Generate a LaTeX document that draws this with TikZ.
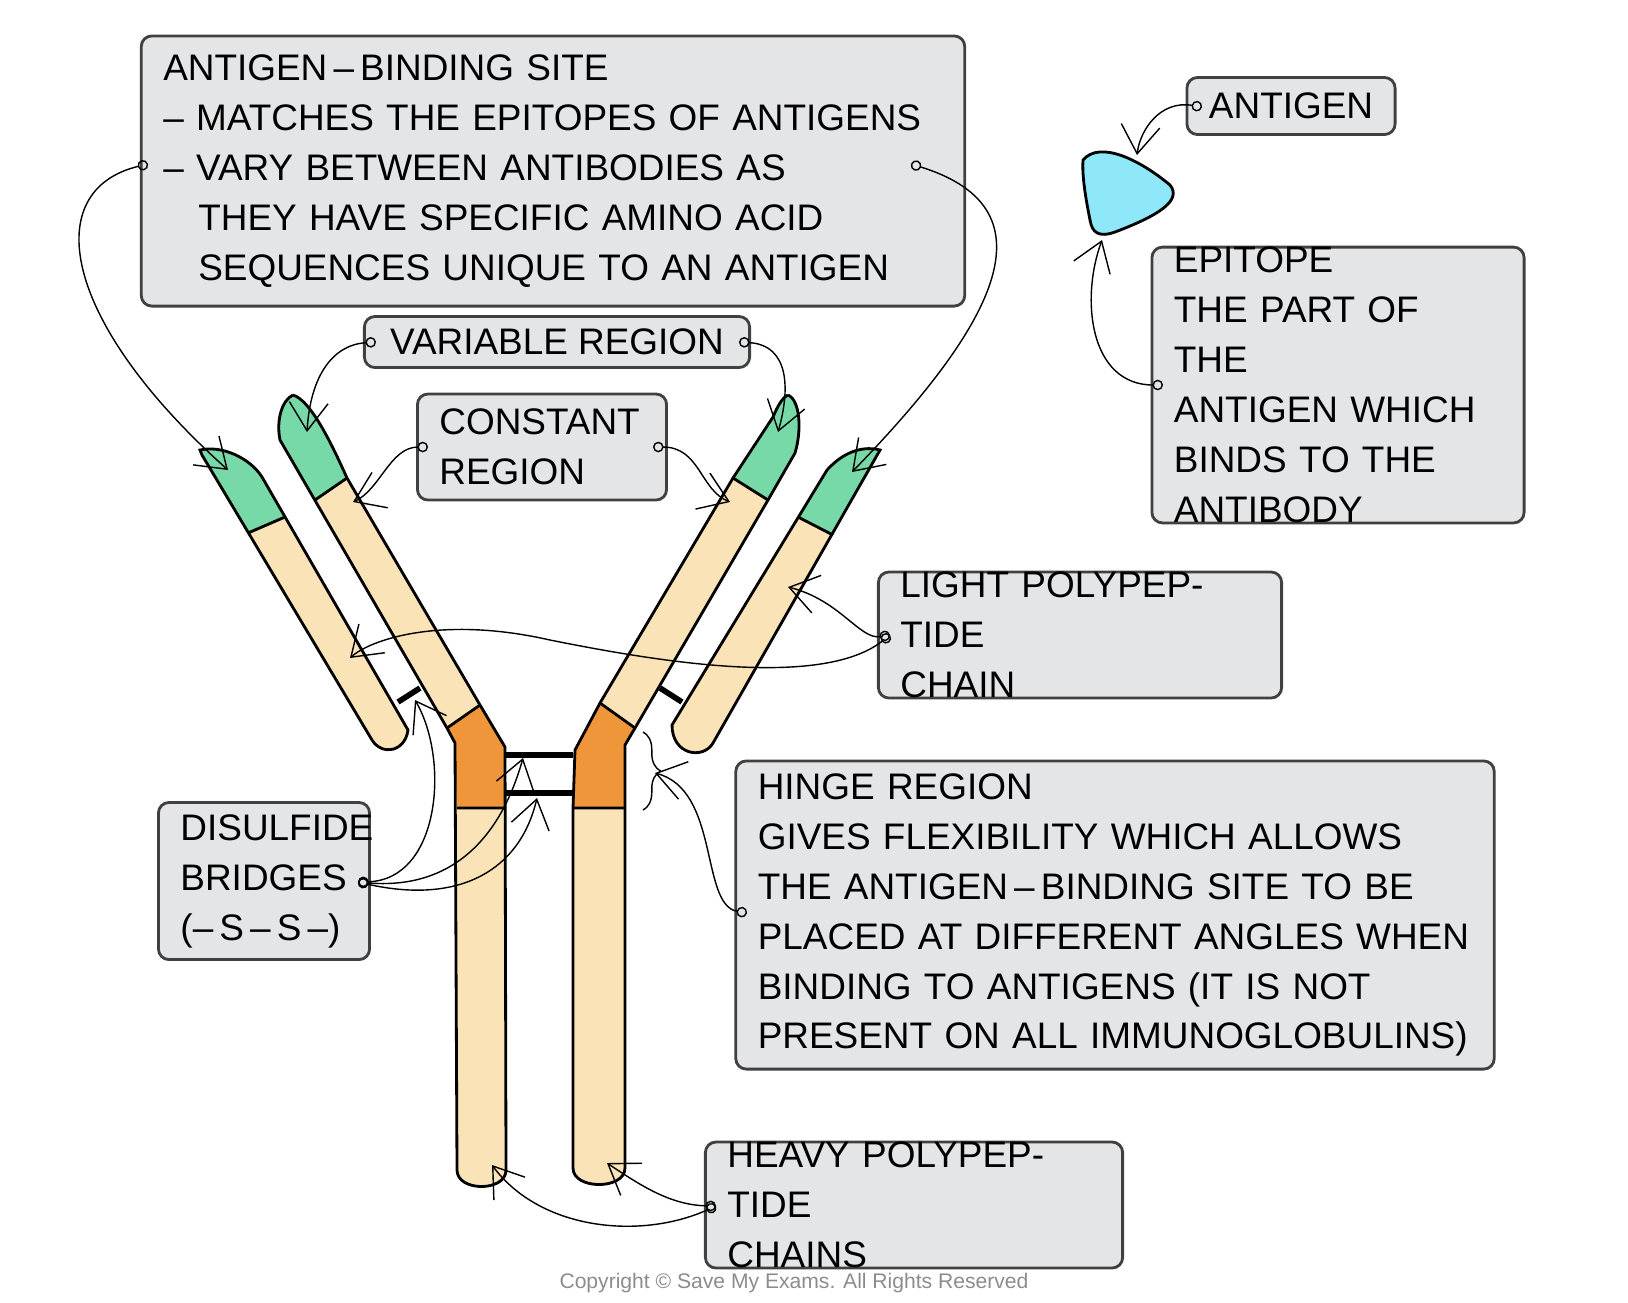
\documentclass[tikz,border=0pt]{standalone}
\usepackage{fontspec}
\setmainfont{Liberation Sans}
\usetikzlibrary{arrows.meta,decorations.pathreplacing}
\definecolor{chainbeige}{HTML}{FBE3B8}
\definecolor{chaingreen}{HTML}{77D9A8}
\definecolor{hingeorange}{HTML}{F0963A}
\definecolor{antigenblue}{HTML}{8EE8FA}
\definecolor{boxgrey}{HTML}{E4E5E6}
\tikzset{
  label box/.style = {rectangle, rounded corners=3pt, draw=black!75, fill=boxgrey,
    line width=0.8pt, inner xsep=0.22cm, inner ysep=0pt, align=left,
    font=\fontsize{10.5}{14.2}\selectfont},
  chain/.style = {draw=black, line width=0.8pt},
  pointer/.style = {thin, {Circle[open,length=3pt]}-{Straight Barb[length=8pt,width=11pt]}},
  bridge/.style = {line width=1.6pt}
}

\begin{document}
\begin{tikzpicture}[x=0.01cm, y=-0.01cm]
      \useasboundingbox (0,0) rectangle (1628,1302);
      % left light chain
      \fill[chainbeige] (202,455) -- (372,740) .. controls (382,756) and (405,752) .. (408,730)
        -- (262,477) .. controls (250,458) and (222,445) .. (200,450) -- cycle;
      \fill[chaingreen] (202,455) -- (248,533) -- (285,517) -- (262,477)
        .. controls (250,458) and (222,445) .. (200,450) -- cycle;
      \draw[chain] (202,455) -- (372,740) .. controls (382,756) and (405,752) .. (408,730)
        -- (262,477) .. controls (250,458) and (222,445) .. (200,450) -- cycle;
      \draw[chain] (248,533) -- (285,517);
      % left heavy chain
      \fill[chainbeige] (293,395) .. controls (310,400) and (330,440) .. (347,478) -- (480,705)
        -- (505,747) -- (506,1170) .. controls (506,1192) and (457,1192) .. (457,1170)
        -- (455,743) -- (447,728) -- (280,440) .. controls (276,420) and (282,400) .. (293,395);
      \fill[chaingreen] (293,395) .. controls (310,400) and (330,440) .. (347,478) -- (315,500)
        -- (280,440) .. controls (276,420) and (282,400) .. (293,395);
      \fill[hingeorange] (447,728) -- (480,705) -- (505,747) -- (506,808) -- (457,808) -- (455,743) -- cycle;
      \draw[chain] (293,395) .. controls (310,400) and (330,440) .. (347,478) -- (480,705)
        -- (505,747) -- (506,1170) .. controls (506,1192) and (457,1192) .. (457,1170)
        -- (455,743) -- (447,728) -- (280,440) .. controls (276,420) and (282,400) .. (293,395);
      \draw[chain] (315,500) -- (347,478) (447,728) -- (480,705) (457,808) -- (506,808);
      % right heavy chain
      \fill[chainbeige] (788,395) .. controls (800,400) and (802,430) .. (795,453) -- (768,500)
        -- (635,728) -- (625,745) -- (625,1168) .. controls (625,1190) and (573,1190) .. (573,1168)
        -- (573,808) -- (575,750) -- (600,703) -- (733,478) -- (773,417)
        .. controls (778,405) and (783,397) .. (788,395);
      \fill[chaingreen] (788,395) .. controls (800,400) and (802,430) .. (795,453) -- (768,500)
        -- (733,478) -- (773,417) .. controls (778,405) and (783,397) .. (788,395);
      \fill[hingeorange] (600,703) -- (635,728) -- (625,745) -- (625,808) -- (573,808) -- (575,750) -- cycle;
      \draw[chain] (788,395) .. controls (800,400) and (802,430) .. (795,453) -- (768,500)
        -- (635,728) -- (625,745) -- (625,1168) .. controls (625,1190) and (573,1190) .. (573,1168)
        -- (573,808) -- (575,750) -- (600,703) -- (733,478) -- (773,417)
        .. controls (778,405) and (783,397) .. (788,395);
      \draw[chain] (733,478) -- (768,500) (600,703) -- (635,728) (573,808) -- (625,808);
      % right light chain
      \fill[chainbeige] (827,470) .. controls (845,450) and (865,446) .. (880,450) -- (713,743)
        .. controls (703,760) and (672,755) .. (672,725) -- cycle;
      \fill[chaingreen] (827,470) .. controls (845,450) and (865,446) .. (880,450) -- (833,535)
        -- (798,517) -- cycle;
      \draw[chain] (827,470) .. controls (845,450) and (865,446) .. (880,450) -- (713,743)
        .. controls (703,760) and (672,755) .. (672,725) -- cycle;
      \draw[chain] (798,517) -- (833,535);
      % disulfide bridges
      \draw[bridge] (506,755) -- (573,755) (506,793) -- (573,793);
      \draw[bridge] (398,702) -- (420,688) (660,688) -- (682,702);
      % hinge brace
      \draw[thin, decorate, decoration={brace, amplitude=5pt}] (643,732) -- (643,810);
      % antigen
      \draw[chain, fill=antigenblue] (1083,160) .. controls (1100,140) and (1140,160) .. (1170,185)
        .. controls (1182,200) and (1160,215) .. (1115,232) .. controls (1098,238) and (1092,232) .. (1090,220)
        .. controls (1085,195) and (1082,175) .. (1083,160) -- cycle;

      % label boxes
      \node[label box, minimum width=8.23cm, minimum height=2.7cm, text width=7.79cm] (bind) at (553,171)
        {ANTIGEN\,--\,BINDING SITE\\
         -- MATCHES THE EPITOPES OF ANTIGENS\\
         -- VARY BETWEEN ANTIBODIES AS\\
         \hspace*{0.35cm}THEY HAVE SPECIFIC AMINO ACID\\
         \hspace*{0.35cm}SEQUENCES UNIQUE TO AN ANTIGEN};
      \node[label box, minimum width=3.85cm, minimum height=0.51cm] (variable) at (557,342)
        {VARIABLE REGION};
      \node[label box, minimum width=2.49cm, minimum height=1.06cm, text width=2.05cm] (constant) at (542,447)
        {CONSTANT\\REGION};
      \node[label box, minimum width=1.99cm, minimum height=0.57cm] (antigen) at (1291,106)
        {ANTIGEN};
      \node[label box, minimum width=3.72cm, minimum height=2.57cm, text width=3.28cm] (epitope) at (1338,385)
        {EPITOPE\\THE PART OF THE\\ANTIGEN WHICH\\BINDS TO THE\\ANTIBODY};
      \node[label box, minimum width=4.03cm, minimum height=1.05cm, text width=3.59cm] (light) at (1080,635)
        {LIGHT POLYPEPTIDE\\CHAIN};
      \node[label box, minimum width=7.58cm, minimum height=3.08cm, text width=7.14cm] (hinge) at (1115,915)
        {HINGE REGION\\GIVES FLEXIBILITY WHICH ALLOWS\\THE ANTIGEN\,--\,BINDING SITE TO BE\\
         PLACED AT DIFFERENT ANGLES WHEN\\BINDING TO ANTIGENS (IT IS NOT\\
         PRESENT ON ALL IMMUNOGLOBULINS)};
      \node[label box, minimum width=2.11cm, minimum height=1.57cm, text width=1.67cm] (disulfide) at (264,881)
        {DISULFIDE\\BRIDGES\\(--\,S\,--\,S\,--)};
      \node[label box, minimum width=4.17cm, minimum height=1.06cm, text width=3.73cm] (heavy) at (914,1205)
        {HEAVY POLYPEPTIDE\\CHAINS};
      \node[text=black!45, font=\fontsize{6}{7}\selectfont] (copyright) at (794,1283)
        {Copyright \textcopyright{} Save My Exams. All Rights Reserved};

      % connector ends
      \coordinate (bind-l) at (148,164);
      \coordinate (bind-r) at (911,164);
      \coordinate (var-l) at (376,342);
      \coordinate (var-r) at (739,342);
      \coordinate (con-l) at (428,447);
      \coordinate (con-r) at (653,447);
      \coordinate (ant-dot) at (1202,107);
      \coordinate (epi-dot) at (1163,385);
      \coordinate (light-dot) at (890,635);
      \coordinate (hinge-dot) at (747,913);
      \coordinate (dis-dot) at (358,882);
      \coordinate (heavy-dot) at (716,1206);
      \coordinate (tip-ll) at (228,470);
      \coordinate (tip-rl) at (852,472);
      \coordinate (tip-lh) at (307,432);
      \coordinate (tip-rh) at (778,432);
      \coordinate (const-lh) at (353,502);
      \coordinate (const-rh) at (730,502);
      \coordinate (antigen-top) at (1137,155);
      \coordinate (antigen-bottom) at (1102,240);
      \coordinate (light-r) at (788,587);
      \coordinate (light-l) at (350,658);
      \coordinate (bridge-l) at (415,700);
      \coordinate (bridge-up) at (523,758);
      \coordinate (bridge-lo) at (537,798);
      \coordinate (brace-tip) at (655,773);
      \coordinate (stem-l) at (492,1165);
      \coordinate (stem-r) at (607,1163);

      \draw[pointer] (bind-l) .. controls (40,190) and (60,320) .. (tip-ll);
      \draw[pointer] (bind-r) .. controls (1060,210) and (990,330) .. (tip-rl);
      \draw[pointer] (var-l) .. controls (330,345) and (310,380) .. (tip-lh);
      \draw[pointer] (var-r) .. controls (790,345) and (790,390) .. (tip-rh);
      \draw[pointer] (con-l) .. controls (390,447) and (380,490) .. (const-lh);
      \draw[pointer] (con-r) .. controls (700,447) and (700,490) .. (const-rh);
      \draw[pointer] (ant-dot) .. controls (1160,100) and (1140,130) .. (antigen-top);
      \draw[pointer] (epi-dot) .. controls (1090,385) and (1080,300) .. (antigen-bottom);
      \draw[pointer] (light-dot) .. controls (860,640) and (840,600) .. (light-r);
      \draw[pointer] (light-dot) .. controls (820,690) and (650,660) .. (550,640)
        .. controls (440,615) and (370,640) .. (light-l);
      \draw[pointer] (dis-dot) .. controls (440,880) and (450,760) .. (bridge-l);
      \draw[pointer] (dis-dot) .. controls (450,890) and (500,840) .. (bridge-up);
      \draw[pointer] (dis-dot) .. controls (460,905) and (520,870) .. (bridge-lo);
      \draw[pointer] (hinge-dot) .. controls (700,905) and (720,790) .. (brace-tip);
      \draw[pointer] (heavy-dot) .. controls (640,1240) and (540,1230) .. (stem-l);
      \draw[pointer] (heavy-dot) .. controls (670,1205) and (640,1185) .. (stem-r);
\end{tikzpicture}
\end{document}
